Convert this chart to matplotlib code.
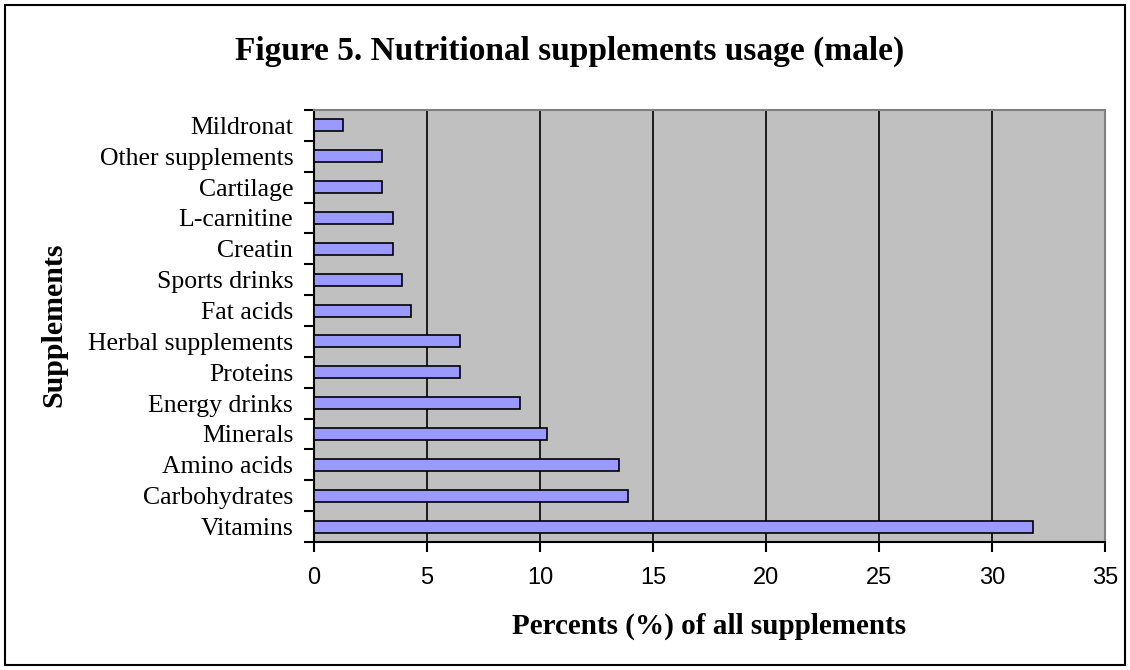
import matplotlib
matplotlib.use("Agg")
import matplotlib.pyplot as plt
from matplotlib.patches import Rectangle
import numpy as np

categories = ["Vitamins", "Carbohydrates", "Amino acids", "Minerals", "Energy drinks",
              "Proteins", "Herbal supplements", "Fat acids", "Sports drinks", "Creatin",
              "L-carnitine", "Cartilage", "Other supplements", "Mildronat"]
values = [31.8, 13.9, 13.5, 10.3, 9.1, 6.45, 6.45, 4.3, 3.9, 3.5, 3.5, 3.0, 3.0, 1.3]
x_ticks = [0, 5, 10, 15, 20, 25, 30, 35]

W, H = 1130, 670
fig = plt.figure(figsize=(W / 100, H / 100), dpi=100)
fig.patch.set_facecolor("white")
fig.patches.append(Rectangle((5 / W, 5 / H), 1 - 10 / W, 1 - 10 / H, transform=fig.transFigure,
                             fill=False, edgecolor="black", linewidth=1.5))

ax = fig.add_axes([314 / W, 1 - 542 / H, (1105 - 314) / W, (542 - 110) / H])
ax.set_facecolor("#C0C0C0")
y = np.arange(len(categories))
ax.barh(y, values, height=0.39, color="#9999FF", edgecolor="black", linewidth=1.2, zorder=3)
ax.set_xlim(0, 35)
ax.set_ylim(-0.5, len(categories) - 0.5)
ax.set_xticks(x_ticks)
ax.set_xticklabels([str(t) for t in x_ticks], fontfamily="Liberation Sans", fontsize=17)
ax.xaxis.grid(True, color="black", linewidth=1.2, zorder=1)
ax.set_axisbelow(True)
ax.set_yticks(y)
ax.set_yticklabels(categories, fontfamily="Liberation Serif", fontsize=18.5)
ax.set_yticks(np.arange(-0.5, len(categories), 1), minor=True)
ax.tick_params(axis="y", which="major", length=0, pad=15)
ax.tick_params(axis="y", which="minor", length=7, width=1.5, direction="out")
ax.tick_params(axis="x", which="major", length=7, width=1.5, direction="out", pad=11)
for s in ["left", "bottom"]:
    ax.spines[s].set_color("black")
    ax.spines[s].set_linewidth(1.5)
for s in ["top", "right"]:
    ax.spines[s].set_color("#808080")
    ax.spines[s].set_linewidth(1.5)

fig.text(570 / W, 1 - 51 / H, "Figure 5. Nutritional supplements usage (male)", ha="center", va="center",
         fontfamily="Liberation Serif", fontweight="bold", fontsize=24)
fig.text(709 / W, 1 - 626 / H, "Percents (%) of all supplements", ha="center", va="center",
         fontfamily="Liberation Serif", fontweight="bold", fontsize=21)
fig.text(54 / W, 1 - 325 / H, "Supplements", ha="center", va="center", rotation=90,
         fontfamily="Liberation Serif", fontweight="bold", fontsize=21.5)

fig.savefig("out.png", dpi=100)
